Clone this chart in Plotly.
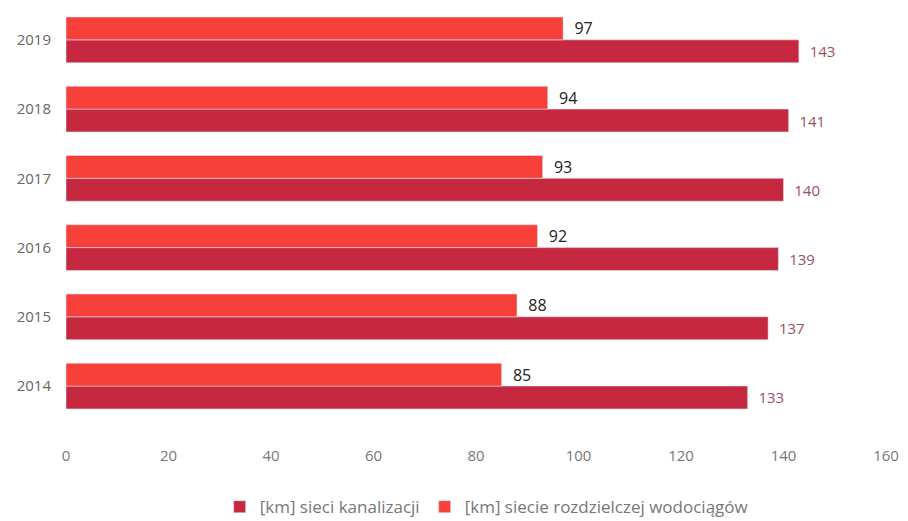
import plotly.graph_objects as go

years = ["2014", "2015", "2016", "2017", "2018", "2019"]
kanalizacja = [133, 137, 139, 140, 141, 143]
wodociagi = [85, 88, 92, 93, 94, 97]
x_ticks = [0, 20, 40, 60, 80, 100, 120, 140, 160]

dark = "#C5283F"
light = "#F7403A"
pad = "\u00a0\u00a0"

fig = go.Figure()
fig.add_trace(go.Bar(
    y=years, x=kanalizacja, orientation="h", name="[km] sieci kanalizacji",
    marker=dict(color=dark), texttemplate=pad + "%{x}",
    textposition="outside", textfont=dict(color="#9A5062", size=15, family="Open Sans"),
    cliponaxis=False,
))
fig.add_trace(go.Bar(
    y=years, x=wodociagi, orientation="h", name="[km] siecie rozdzielczej wodociągów",
    marker=dict(color=light), texttemplate=pad + "%{x}",
    textposition="outside", textfont=dict(color="#222222", size=16, family="Open Sans"),
    cliponaxis=False,
))

fig.update_layout(
    width=900, height=513,
    margin=dict(l=58, r=22, t=0, b=83, autoexpand=False),
    paper_bgcolor="white", plot_bgcolor="white",
    barmode="group", bargap=0.34, bargroupgap=0,
    font=dict(family="Open Sans", color="#666666", size=14),
    legend=dict(orientation="h", x=0.513, xanchor="center", y=-0.119, yanchor="top",
                traceorder="normal", itemwidth=30,
                font=dict(size=17, color="#777777")),
    showlegend=True,
)
fig.update_xaxes(range=[0, 160], tickvals=x_ticks, ticktext=[str(t) for t in x_ticks],
                 showgrid=False, zeroline=False, showline=False, automargin=False,
                 tickfont=dict(family="Open Sans", size=15, color="#777777"),
                 ticklabelstandoff=7)
fig.update_yaxes(categoryorder="array", categoryarray=years, range=[-0.75, 5.46],
                 showgrid=False, zeroline=False, showline=False, automargin=False,
                 tickfont=dict(family="Open Sans", size=15, color="#666666"),
                 ticklabelstandoff=14)

fig.write_html("out.html")
